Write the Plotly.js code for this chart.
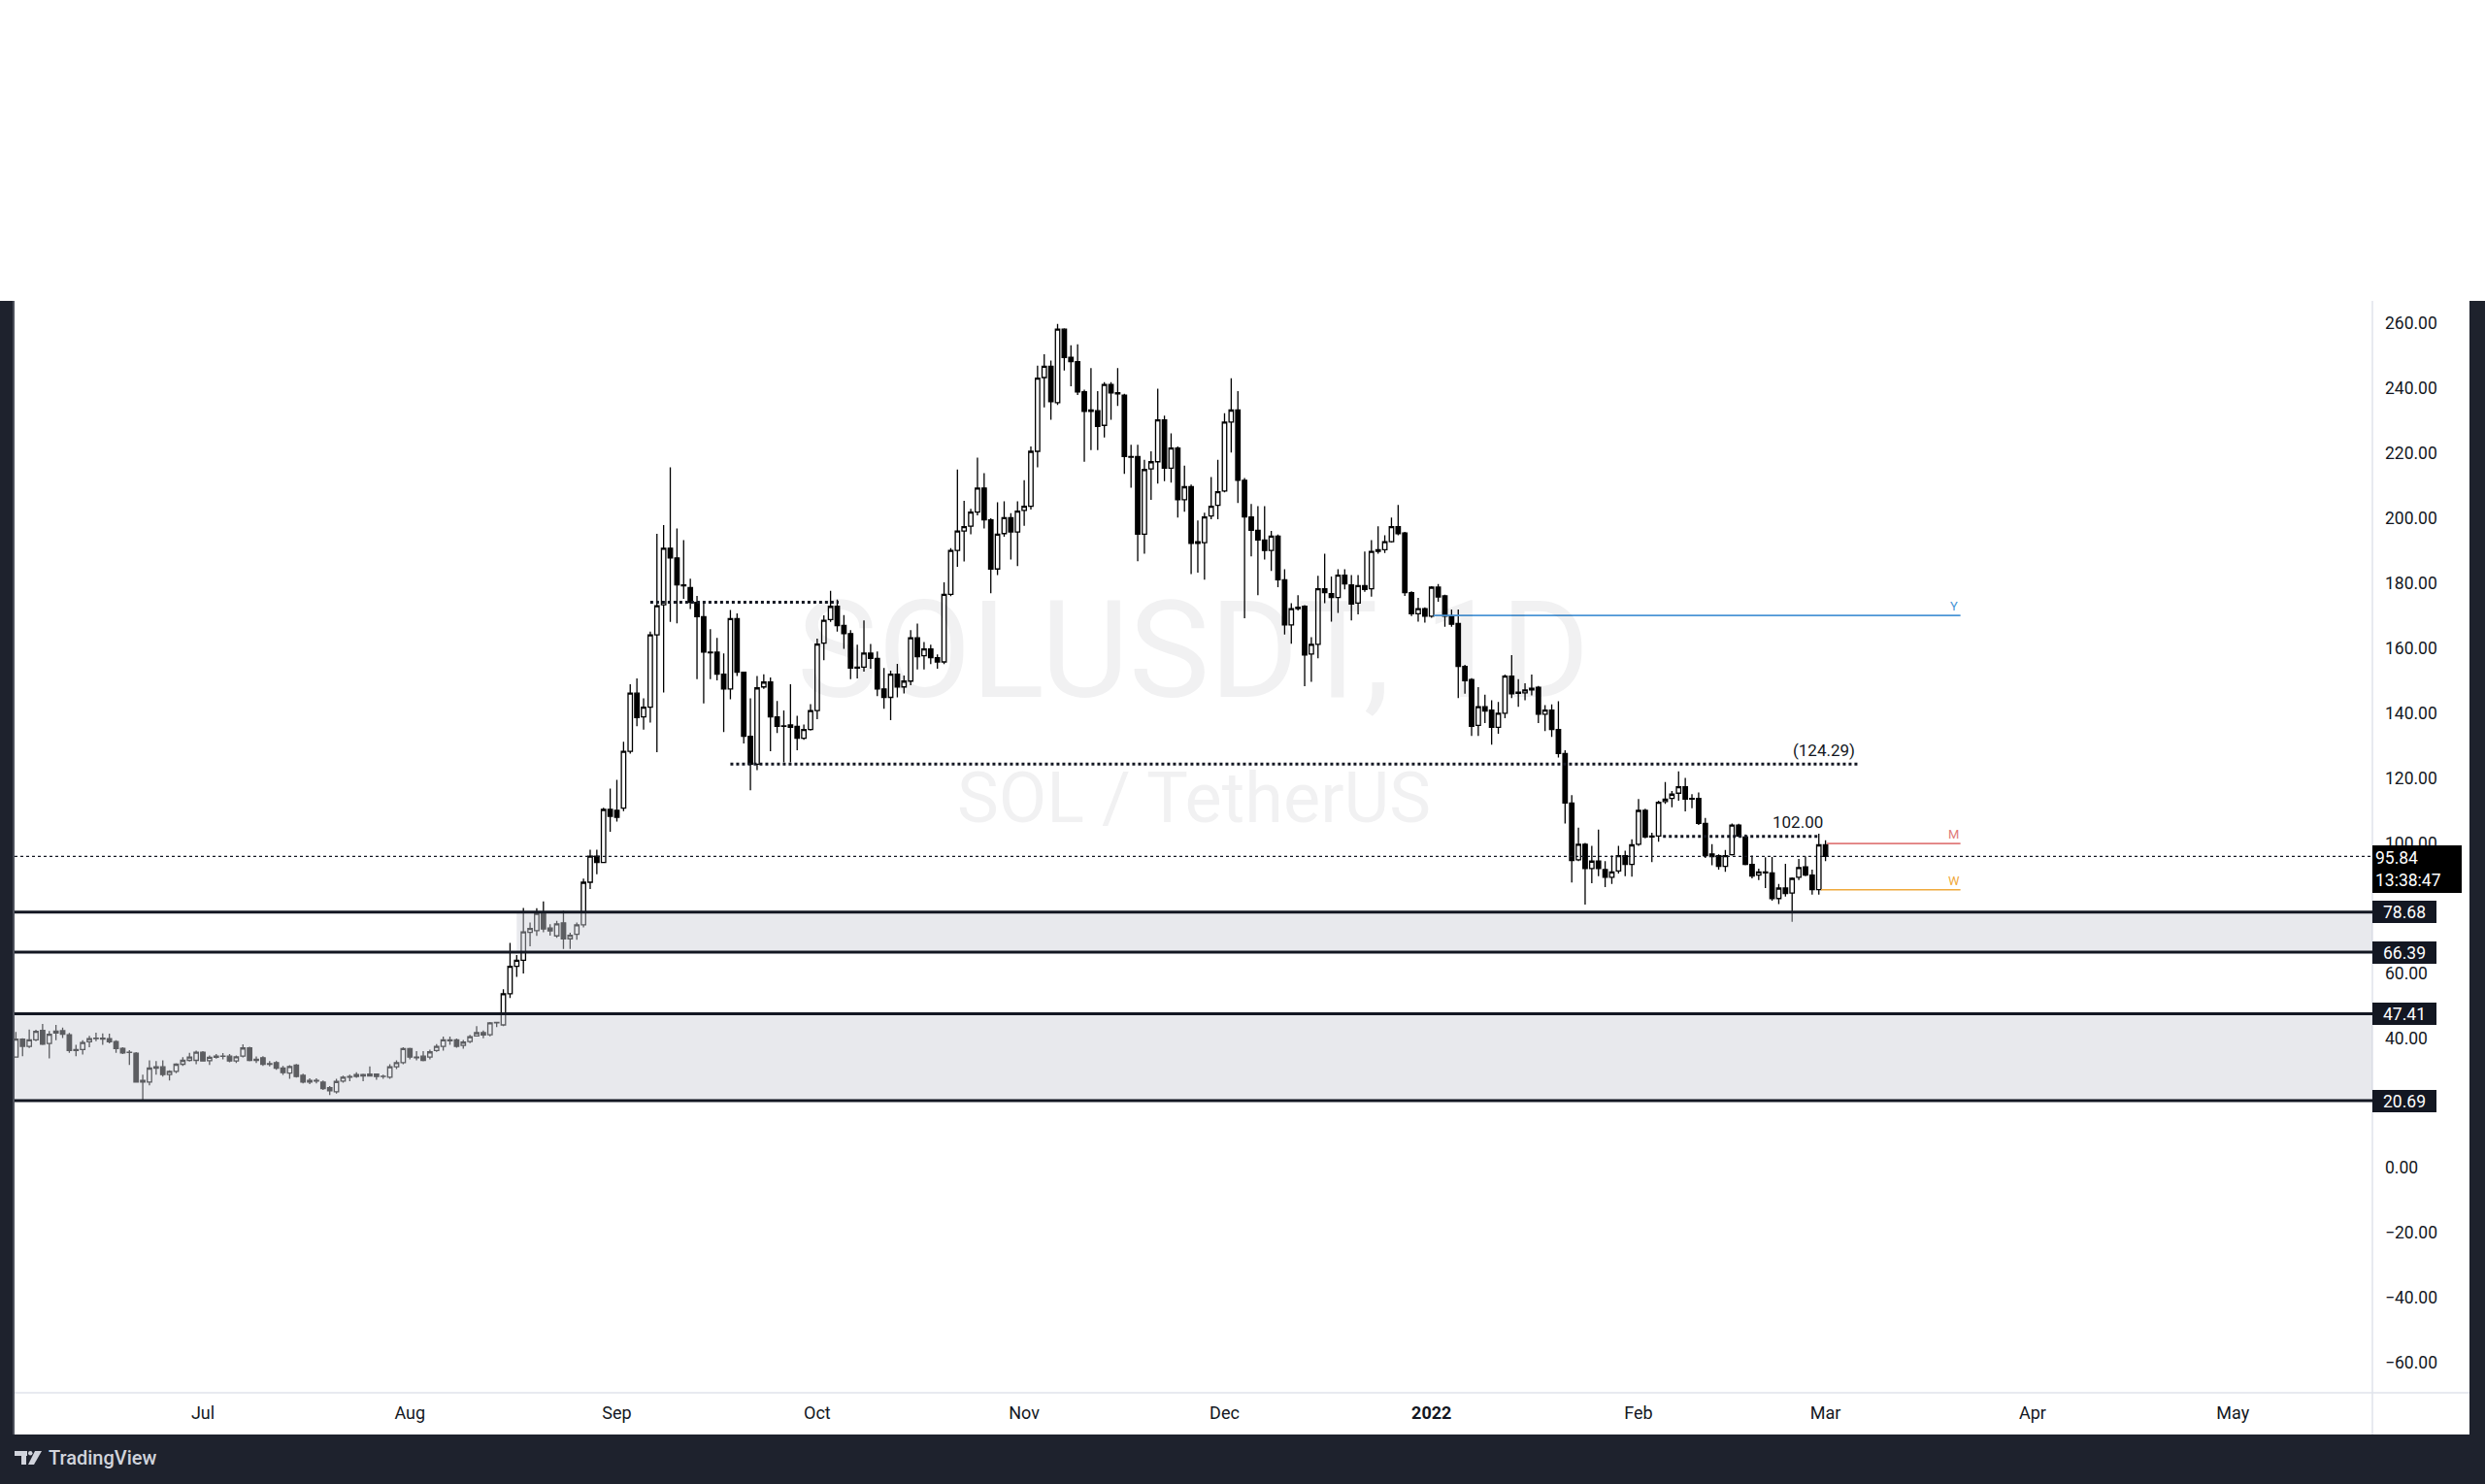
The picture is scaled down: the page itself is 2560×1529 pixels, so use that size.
<!DOCTYPE html>
<html><head><meta charset="utf-8">
<script src="https://cdn.plot.ly/plotly-3.0.1.min.js"></script>
<style>html,body{margin:0;padding:0;background:#fff;overflow:hidden}#chart{width:2560px;height:1529px}</style>
</head><body><div id="chart"></div>
<script>
// Daily bars [open, high, low, close], SOL/USDT, starting 2021-06-03
const firstDay = [2021, 5, 3];
const jun2021 = [
 [34.1,41.8,33.9,39.6],[39.6,39.9,34.4,37.4],[37.4,42.6,36.9,39.4],[39.4,42.5,39.0,42.0],
 [42.3,44.3,37.8,38.1],[38.3,42.1,33.7,41.1],[42.1,44.0,39.3,41.5],[42.2,43.2,40.0,41.1],
 [41.0,41.5,35.4,36.1],[36.1,37.9,34.4,36.4],[36.4,39.3,34.9,38.6],[38.8,40.6,37.1,39.8],
 [39.8,41.6,39.0,39.9],[39.9,41.4,37.9,39.6],[39.8,41.3,38.3,38.8],[38.9,39.3,35.4,36.7],
 [36.8,37.1,35.0,35.4],[35.5,36.2,31.7,35.6],[35.3,35.6,26.2,26.4],[26.4,28.7,21.0,26.9],
 [26.4,33.1,25.4,30.7],[30.7,32.9,28.7,31.1],[31.1,33.1,28.1,28.7],[28.7,30.0,26.9,29.7],
 [29.7,32.2,29.1,31.9],[31.9,34.1,31.4,33.1],[33.1,35.4,32.7,34.1],[33.1,36.1,31.9,35.6]
];
const jul2021 = [
 [35.6,35.9,32.7,32.9],[33.0,34.6,31.7,34.0],[34.0,35.0,33.6,34.4],[34.4,35.3,33.4,34.3],
 [34.4,35.0,32.5,32.9],[32.9,34.6,32.3,34.2],[34.4,38.0,34.0,36.9],[36.9,37.3,32.8,33.1],
 [33.1,34.3,32.3,33.4],[33.9,34.4,31.4,31.9],[31.9,32.9,31.2,32.1],[32.4,32.9,30.2,30.7],
 [30.7,31.4,28.6,29.3],[29.2,31.6,27.4,31.2],[31.6,32.0,27.8,28.1],[28.5,29.0,26.0,26.4],
 [26.4,27.6,25.8,26.9],[26.9,27.6,26.0,26.7],[26.4,26.9,24.0,24.4],[24.7,25.2,22.4,23.7],
 [23.4,27.4,22.9,26.6],[26.7,28.4,26.2,27.9],[27.9,28.7,26.7,28.1],[28.1,29.4,27.7,28.7],
 [28.7,29.0,26.7,28.3],[28.3,31.2,28.1,28.9],[28.9,28.9,27.1,28.1],[28.1,28.7,27.4,28.2],
 [27.9,31.9,27.4,31.1],[31.1,33.1,30.4,32.4],[32.4,37.1,31.9,36.7]
];
const aug2021 = [
 [36.7,37.0,33.4,34.1],[34.1,35.9,33.1,33.9],[34.4,35.9,32.8,33.1],[34.1,36.4,33.4,35.7],
 [36.1,38.1,35.7,37.4],[37.4,40.4,36.1,39.4],[39.4,40.4,37.9,39.1],[39.4,39.8,37.0,37.4],
 [37.7,39.4,36.7,38.7],[38.9,40.9,38.4,40.4],[40.6,43.6,40.4,41.6],[41.6,42.3,39.9,40.9],
 [41.0,44.9,40.5,44.6],[44.6,44.9,43.3,44.8],[44.0,55.0,43.6,53.6],[53.6,69.2,52.3,62.0],
 [62.0,65.5,58.8,63.9],[63.9,80.0,59.8,72.6],[72.5,75.5,68.2,73.7],[73.0,79.9,71.4,78.3],
 [78.3,82.0,72.5,73.5],[73.8,75.0,71.5,72.9],[71.4,76.0,70.8,75.1],[75.4,79.1,67.4,70.5],
 [70.5,72.4,67.4,71.6],[71.9,75.5,70.2,74.8],[74.8,89.0,74.0,87.9],[87.9,97.9,85.8,95.9],
 [95.9,97.9,90.4,94.0],[94.0,110.8,93.8,110.3],[110.3,116.7,103.4,108.2]
];
const sep2021 = [
 [110.0,119.4,106.6,107.9],[110.7,131.1,109.8,128.2],[128.2,148.8,127.5,146.1],[146.1,150.6,135.9,138.6],
 [138.8,144.5,134.9,141.8],[141.8,165.0,137.0,164.0],[164.0,195.1,127.9,173.0],[173.3,197.8,146.3,190.7],
 [190.7,215.6,168.0,187.7],[187.7,196.8,167.6,179.4],[179.4,193.2,175.1,179.1],[178.6,181.3,172.0,174.0],
 [174.0,176.0,150.4,169.6],[169.6,174.4,142.9,158.7],[158.7,165.8,150.4,158.5],[158.7,163.1,150.0,151.9],
 [151.9,158.3,134.1,147.4],[147.4,171.7,144.2,169.0],[169.0,170.6,151.4,152.5],[152.5,152.5,130.6,132.8],
 [132.8,144.5,116.2,124.2],[124.2,151.4,122.4,147.7],[148.0,151.9,147.4,149.5],[149.5,150.9,128.2,138.8],
 [138.8,143.7,133.8,135.9],[135.9,140.8,124.8,136.0],[136.3,148.8,124.8,135.6],[135.9,139.1,128.5,132.2],
 [132.2,136.4,131.7,134.9],[134.9,142.7,134.6,140.7]
];
const oct2021 = [
 [140.7,162.9,138.1,161.2],[161.5,170.0,156.2,168.5],[168.7,177.6,168.0,172.8],[172.8,174.9,165.0,166.9],
 [166.9,170.1,159.7,164.4],[164.4,165.5,150.4,153.8],[153.8,161.0,150.6,154.1],[154.1,168.5,152.7,158.4],
 [158.4,161.2,153.6,156.8],[156.8,158.9,145.2,147.4],[147.4,153.8,141.3,144.8],[144.8,153.0,137.8,151.9],
 [151.9,155.1,144.8,148.0],[148.0,151.5,146.0,149.8],[149.8,165.5,148.5,163.1],[163.1,167.5,153.4,157.3],
 [157.6,161.8,153.4,159.7],[159.7,161.0,155.0,157.0],[157.0,158.0,153.6,155.7],[155.7,180.2,155.0,176.5],
 [176.5,190.7,175.9,190.0],[190.0,214.9,185.0,196.0],[196.0,205.3,186.6,197.3],[197.5,202.8,195.0,201.8],
 [201.8,218.6,200.8,209.2],[209.2,213.8,196.8,199.4],[199.4,199.9,176.8,184.3],[184.3,204.8,182.4,195.0],
 [195.2,205.1,194.2,200.1],[200.1,201.5,187.2,195.7],[195.7,205.1,185.2,202.1]
];
const nov2021 = [
 [202.3,211.6,197.6,203.6],[203.6,222.0,202.6,220.5],[220.5,246.9,215.6,243.0],[243.2,250.4,234.0,246.7],
 [246.7,248.4,230.2,235.8],[235.5,259.7,234.8,258.1],[258.1,258.4,245.4,249.4],[249.4,253.1,240.5,248.1],
 [248.1,253.4,237.8,238.8],[238.8,239.5,217.3,232.8],[232.8,246.1,220.9,233.2],[233.0,239.0,220.9,228.2],
 [228.5,241.8,224.8,241.1],[241.1,241.8,230.2,238.5],[238.5,246.1,234.5,238.2],[237.8,238.2,213.6,218.9],
 [218.9,222.5,209.3,218.7],[218.9,222.5,186.7,195.0],[195.0,217.9,189.0,214.9],[215.1,220.5,205.6,217.3],
 [217.3,239.8,210.6,230.2],[230.2,231.5,211.3,215.3],[215.3,226.0,210.9,221.5],[221.5,222.0,200.1,205.6],
 [205.6,216.1,201.9,209.6],[209.6,210.3,182.7,192.2],[192.7,199.2,183.2,192.2],[192.4,201.6,181.0,200.3],
 [200.6,212.6,199.6,203.6],[203.9,217.9,199.6,208.1]
];
const dec2021 = [
 [208.3,232.2,207.9,229.5],[229.5,243.0,220.1,233.2],[233.2,239.0,204.6,211.6],[211.6,212.3,169.1,200.3],
 [200.3,204.3,188.2,196.2],[196.2,203.6,176.2,193.2],[193.2,203.6,187.2,190.0],[190.0,196.0,183.7,194.4],
 [194.4,194.9,178.7,181.0],[181.0,184.2,164.1,167.1],[167.1,173.8,161.3,172.1],[172.1,176.2,171.5,172.5],
 [172.8,173.2,148.2,157.8],[158.1,163.3,149.6,161.1],[161.1,182.2,156.8,178.2],[178.2,189.0,173.8,177.0],
 [176.7,182.0,168.1,175.5],[175.5,184.2,170.8,182.4],[182.4,184.2,178.0,179.7],[179.4,182.4,168.5,173.5],
 [173.8,182.4,170.3,179.2],[179.2,189.7,177.3,178.0],[178.2,193.2,175.8,189.7],[189.7,197.4,189.0,190.2],
 [190.2,194.7,189.2,192.7],[192.7,200.1,192.4,197.3],[197.3,204.0,194.7,195.2],[195.4,195.7,176.0,177.0],
 [177.0,177.4,169.8,170.5],[170.5,175.4,168.1,172.1],[172.1,172.5,167.8,169.8]
];
const jan2022 = [
 [169.8,179.0,169.3,178.7],[178.7,179.7,174.2,175.7],[176.0,176.4,166.5,169.8],[169.8,171.8,166.5,167.3],
 [167.5,171.8,144.6,154.3],[154.3,154.8,145.9,149.9],[150.3,150.7,132.9,135.9],[136.2,147.9,132.9,141.9],
 [141.9,145.6,136.9,140.6],[140.9,143.9,130.2,135.6],[135.6,143.4,133.6,139.9],[139.9,151.8,138.4,151.3],
 [151.3,157.8,144.6,145.9],[146.0,150.4,141.9,146.4],[146.2,149.1,143.9,147.1],[147.1,151.8,145.4,147.6],
 [147.9,148.3,136.9,139.6],[139.6,142.4,134.4,140.9],[140.9,142.6,132.6,134.9],[134.9,143.6,126.3,127.5],
 [127.5,128.5,106.0,112.3],[112.3,114.7,87.8,94.6],[94.8,104.7,94.4,99.6],[99.6,100.0,81.0,92.1],
 [92.1,99.1,87.6,94.4],[94.4,104.1,89.8,92.1],[91.8,94.4,86.4,89.4],[89.4,96.1,87.4,91.1],
 [91.4,99.1,90.6,96.1],[96.1,97.6,89.8,93.4],[93.4,101.1,89.6,99.4]
];
const feb2022 = [
 [99.6,113.5,99.1,110.0],[110.0,110.5,101.4,101.8],[101.8,103.1,94.1,102.1],[102.1,113.0,100.4,112.5],
 [112.7,118.7,112.0,113.5],[113.7,116.0,111.0,115.0],[115.3,122.0,113.0,117.3],[117.3,120.0,109.7,113.5],
 [113.5,115.0,110.7,113.7],[113.7,115.5,105.5,106.0],[106.0,107.7,95.4,96.1],[96.6,99.6,93.1,95.8],
 [96.1,96.5,91.8,92.8],[92.8,97.8,91.1,96.1],[96.4,106.0,96.1,105.5],[105.5,105.9,101.8,102.1],
 [101.8,102.6,93.1,93.4],[93.4,96.1,89.1,89.8],[90.1,92.1,88.6,91.1],[91.1,95.6,86.1,90.8],
 [90.8,95.7,82.2,82.9],[82.9,87.4,81.2,86.1],[86.1,93.6,83.5,84.4],[84.6,89.4,75.7,89.1],
 [89.4,95.1,88.6,92.4],[92.6,95.8,89.8,90.1],[90.1,91.8,84.1,85.6],[85.6,102.8,84.1,99.4]
];
const mar2022 = [
 [99.4,100.8,94.4,95.84]
];

// Tick labels and levels
const monthTickDates = ['2021-07-01','2021-08-01','2021-09-01','2021-10-01','2021-11-01','2021-12-01','2022-01-01','2022-02-01','2022-03-01','2022-04-01','2022-05-01'];
const monthTickText = ['Jul','Aug','Sep','Oct','Nov','Dec','<b>2022</b>','Feb','Mar','Apr','May'];
const priceTicks = [260,240,220,200,180,160,140,120,100,60,40,0,-20,-40,-60];
const zoneLevels = [78.68, 66.39, 47.41, 20.69];
const lastPrice = 95.84;
const countdown = '13:38:47';
const dottedLevels = [174.1, 124.29, 102.00];
const rayY = 170.0, rayM = 99.8, rayW = 85.6;
const title = 'SOLUSDT, 1D';
const subtitle = 'SOL / TetherUS';
const brand = 'TradingView';

// build series
const bars = [].concat(jun2021, jul2021, aug2021, sep2021, oct2021, nov2021, dec2021, jan2022, feb2022, mar2022);
const t0 = Date.UTC(firstDay[0], firstDay[1], firstDay[2]);
const dates = bars.map((b, i) => new Date(t0 + i * 86400000).toISOString().slice(0, 10));
const openP = bars.map(b => b[0]);
const highP = bars.map(b => b[1]);
const lowP = bars.map(b => b[2]);
const closeP = bars.map(b => b[3]);

// layout geometry (page pixels)
const W = 2560, H = 1529;
const L = 15, R = 2444, T = 310, B = 1435;
const px = x => (x - L) / (R - L);
const py = y => (B - y) / (B - T);
const dark = '#1e222d', ink = '#131722', brandInk = '#d1d4dc', font = 'Roboto, "Noto Sans", sans-serif';
const xStart = '2021-06-02 19:12', xEnd = '2022-05-21 21:36';

const trace = {
  type: 'candlestick', x: dates, open: openP, high: highP, low: lowP, close: closeP,
  increasing: {line: {color: '#000000', width: 1.3}, fillcolor: '#ffffff'},
  decreasing: {line: {color: '#000000', width: 1.3}, fillcolor: '#000000'},
  whiskerwidth: 0, hoverinfo: 'skip', showlegend: false
};

const shapes = [];
// frame
shapes.push({type:'rect', xref:'paper', yref:'paper', x0:px(0), x1:px(L), y0:py(T), y1:py(1478), fillcolor:dark, line:{width:0}});
shapes.push({type:'rect', xref:'paper', yref:'paper', x0:px(2544), x1:px(W), y0:py(T), y1:py(H), fillcolor:dark, line:{width:0}});
shapes.push({type:'rect', xref:'paper', yref:'paper', x0:px(0), x1:px(W), y0:py(1478), y1:py(H), fillcolor:dark, line:{width:0}});
shapes.push({type:'line', xref:'paper', yref:'paper', x0:px(L-1), x1:px(L-1), y0:py(T), y1:py(1478), line:{color:'#5d606b', width:1.5}});
shapes.push({type:'line', xref:'paper', yref:'paper', x0:1, x1:1, y0:py(T), y1:py(1478), line:{color:'#e0e3eb', width:1.5}});
shapes.push({type:'line', xref:'paper', yref:'paper', x0:0, x1:px(2544), y0:0, y1:0, line:{color:'#e0e3eb', width:1.5}});
// zones (drawn above candles, translucent)
const zoneFill = 'rgba(205,207,216,0.45)';
shapes.push({type:'rect', xref:'x', yref:'y', x0:'2021-08-17', x1:xEnd, y0:zoneLevels[1], y1:zoneLevels[0], fillcolor:zoneFill, line:{width:0}, layer:'above'});
shapes.push({type:'rect', xref:'x', yref:'y', x0:xStart, x1:xEnd, y0:zoneLevels[3], y1:zoneLevels[2], fillcolor:zoneFill, line:{width:0}, layer:'above'});
zoneLevels.forEach(v => shapes.push({type:'line', xref:'paper', yref:'y', x0:0, x1:1, y0:v, y1:v, line:{color:ink, width:3}, layer:'above'}));
// dotted levels
shapes.push({type:'line', xref:'x', yref:'y', x0:'2021-09-06', x1:'2021-10-04 05:00', y0:dottedLevels[0], y1:dottedLevels[0], line:{color:ink, width:3, dash:'dot'}, layer:'above'});
shapes.push({type:'line', xref:'x', yref:'y', x0:'2021-09-18', x1:'2022-03-05 22:00', y0:dottedLevels[1], y1:dottedLevels[1], line:{color:ink, width:3, dash:'dot'}, layer:'above'});
shapes.push({type:'line', xref:'x', yref:'y', x0:'2022-02-04 16:00', x1:'2022-02-28 05:00', y0:dottedLevels[2], y1:dottedLevels[2], line:{color:ink, width:3, dash:'dot'}, layer:'above'});
// last price line
shapes.push({type:'line', xref:'paper', yref:'y', x0:0, x1:1, y0:lastPrice, y1:lastPrice, line:{color:ink, width:1.2, dash:'dot'}, layer:'above'});
// rays
const cY = '#4a95d6', cM = '#e07b7b', cW = '#f0a93c';
shapes.push({type:'line', xref:'x', yref:'y', x0:'2022-01-01 07:00', x1:'2022-03-21 05:00', y0:rayY, y1:rayY, line:{color:cY, width:1.6}, layer:'above'});
shapes.push({type:'line', xref:'x', yref:'y', x0:'2022-03-01 05:00', x1:'2022-03-21 05:00', y0:rayM, y1:rayM, line:{color:cM, width:1.6}, layer:'above'});
shapes.push({type:'line', xref:'x', yref:'y', x0:'2022-02-28 08:00', x1:'2022-03-21 05:00', y0:rayW, y1:rayW, line:{color:cW, width:1.6}, layer:'above'});
// TradingView logo glyph
shapes.push({type:'rect', xref:'paper', yref:'paper', x0:px(15), x1:px(28), y0:py(1495), y1:py(1500), fillcolor:brandInk, line:{width:0}});
shapes.push({type:'rect', xref:'paper', yref:'paper', x0:px(22), x1:px(27), y0:py(1495), y1:py(1509), fillcolor:brandInk, line:{width:0}});
shapes.push({type:'circle', xref:'paper', yref:'paper', x0:px(29), x1:px(33.5), y0:py(1495), y1:py(1499.5), fillcolor:brandInk, line:{width:0}});
shapes.push({type:'path', xref:'paper', yref:'paper', path:`M ${px(36)} ${py(1495)} L ${px(43)} ${py(1495)} L ${px(35)} ${py(1509)} L ${px(29)} ${py(1509)} Z`, fillcolor:brandInk, line:{width:0}});

const annotations = [];
// watermark
annotations.push({xref:'paper', yref:'paper', x:0.5, y:py(670), text:title, showarrow:false, xanchor:'center', yanchor:'middle', font:{family:font, size:140, color:'rgba(19,23,34,0.06)'}});
annotations.push({xref:'paper', yref:'paper', x:0.5, y:py(822), text:subtitle, showarrow:false, xanchor:'center', yanchor:'middle', font:{family:font, size:72, color:'rgba(19,23,34,0.06)'}});
// level texts
annotations.push({xref:'x', yref:'y', x:'2022-02-28 17:00', y:dottedLevels[1], text:'(' + dottedLevels[1].toFixed(2) + ')', showarrow:false, xanchor:'center', yanchor:'bottom', yshift:2, font:{family:font, size:17, color:ink}});
annotations.push({xref:'x', yref:'y', x:'2022-02-24 19:00', y:dottedLevels[2], text:dottedLevels[2].toFixed(2), showarrow:false, xanchor:'center', yanchor:'bottom', yshift:3, font:{family:font, size:17, color:ink}});
annotations.push({xref:'x', yref:'y', x:'2022-03-20 05:00', y:rayY, text:'Y', showarrow:false, xanchor:'center', yanchor:'bottom', yshift:0, font:{family:font, size:13, color:cY}});
annotations.push({xref:'x', yref:'y', x:'2022-03-20 05:00', y:rayM, text:'M', showarrow:false, xanchor:'center', yanchor:'bottom', yshift:0, font:{family:font, size:13, color:cM}});
annotations.push({xref:'x', yref:'y', x:'2022-03-20 05:00', y:rayW, text:'W', showarrow:false, xanchor:'center', yanchor:'bottom', yshift:0, font:{family:font, size:13, color:cW}});
// axis level labels
zoneLevels.forEach(v => annotations.push({xref:'paper', yref:'y', x:1, y:v, text:v.toFixed(2), showarrow:false, xanchor:'left', yanchor:'middle', align:'center', width:60, height:17, borderpad:3, bgcolor:ink, bordercolor:ink, borderwidth:0, font:{family:font, size:17.5, color:'#ffffff'}}));
annotations.push({xref:'paper', yref:'y', x:1, y:lastPrice, text:lastPrice.toFixed(2) + '<br>' + countdown, showarrow:false, xanchor:'left', yanchor:'top', yshift:11, align:'left', width:86, borderpad:3, bgcolor:'#000000', bordercolor:'#000000', borderwidth:0, font:{family:font, size:17.5, color:'#ffffff'}});
// footer brand
annotations.push({xref:'paper', yref:'paper', x:px(48), y:py(1502), text:brand, showarrow:false, xanchor:'left', yanchor:'middle', font:{family:font, size:20, weight:500, color:brandInk}});

const layout = {
  width: W, height: H,
  margin: {l: L, r: W - R, t: T, b: H - B, pad: 0},
  paper_bgcolor: '#ffffff', plot_bgcolor: '#ffffff',
  showlegend: false, hovermode: false, dragmode: false,
  boxgap: 0.35, boxgroupgap: 0,
  xaxis: {
    type: 'date', range: [xStart, xEnd], rangeslider: {visible: false},
    tickvals: monthTickDates, ticktext: monthTickText, ticks: '', showgrid: false, zeroline: false, showline: false,
    tickfont: {family: font, size: 18, color: ink}, ticklabelstandoff: 8, fixedrange: true
  },
  yaxis: {
    side: 'right', range: [-69.2, 266.8], tickvals: priceTicks, tickformat: '.2f', ticks: '',
    showgrid: false, zeroline: false, showline: false,
    tickfont: {family: font, size: 17.5, color: ink}, ticklabelstandoff: 12, fixedrange: true
  },
  shapes: shapes, annotations: annotations
};

Plotly.newPlot('chart', [trace], layout, {staticPlot: true, displayModeBar: false});
</script>
</body></html>
